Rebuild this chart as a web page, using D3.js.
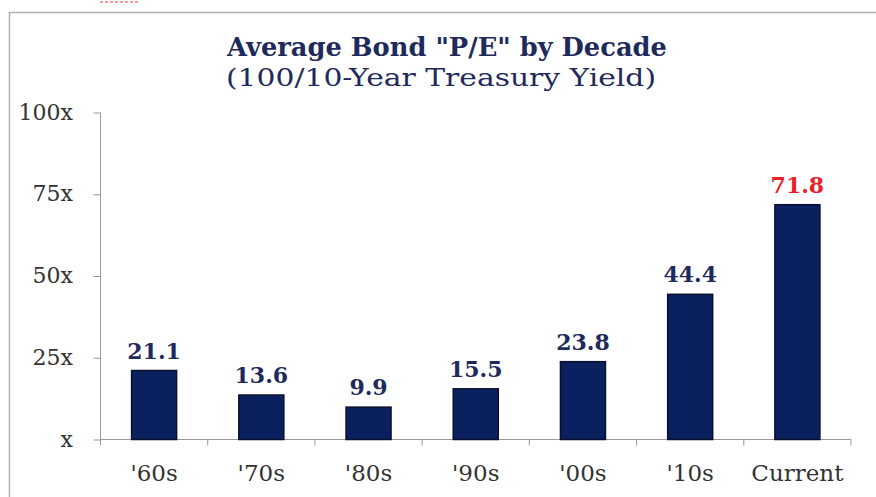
<!DOCTYPE html>
<html><head><meta charset="utf-8">
<script src="https://cdn.jsdelivr.net/npm/d3@7"></script>
<style>html,body{margin:0;padding:0;background:#fff;}svg{display:block;}</style>
</head><body>
<svg id="chart" width="876" height="497"></svg>
<script>
const categories = ["'60s","'70s","'80s","'90s","'00s","'10s","Current"];
const values = [21.1, 13.6, 9.9, 15.5, 23.8, 44.4, 71.8];
const valueLabels = ["21.1","13.6","9.9","15.5","23.8","44.4","71.8"];
const yTicks = [0, 25, 50, 75, 100];
const yTickLabels = ["x","25x","50x","75x","100x"];
const title = 'Average Bond "P/E" by Decade';
const subtitle = "(100/10-Year Treasury Yield)";

const serif = "'DejaVu Serif', 'Liberation Serif', serif";
const svg = d3.select("#chart");

// frame
svg.append("path").attr("d","M9.5,497 V12.5 H876").attr("fill","none").attr("stroke","#b0b0b0").attr("stroke-width",1.5);
svg.append("line").attr("x1",100).attr("x2",140).attr("y1",2).attr("y2",2)
  .attr("stroke","#f08080").attr("stroke-width",1.5).attr("stroke-dasharray","3,2");

const x = d3.scaleBand().domain(categories).range([100.5, 851]).padding(0);
const y = d3.scaleLinear().domain([0,100]).range([439.5, 112.5]);

// titles
svg.append("text").attr("x",447).attr("y",56).attr("text-anchor","middle")
  .attr("font-family",serif).attr("font-weight","bold").attr("font-size",25.5)
  .attr("textLength",440).attr("lengthAdjust","spacingAndGlyphs")
  .attr("fill","#1f2a5c").text(title);
svg.append("text").attr("x",441).attr("y",86).attr("text-anchor","middle")
  .attr("font-family",serif).attr("font-size",25)
  .attr("textLength",430).attr("lengthAdjust","spacingAndGlyphs")
  .attr("fill","#1f2a5c").text(subtitle);

// y axis
const yAxis = svg.append("g").attr("transform","translate(100.5,0)")
  .call(d3.axisLeft(y).tickValues(yTicks).tickFormat("").tickSize(7));
yAxis.select(".domain").attr("stroke","#999").attr("d","M0,112.5V439.5");
yAxis.selectAll(".tick line").attr("stroke","#999");
svg.selectAll("text.ytl").data(yTicks).enter().append("text").attr("class","ytl")
  .attr("x",73).attr("y",d=>y(d)+7).attr("text-anchor","end")
  .attr("font-family",serif).attr("font-size",22).attr("fill","#333")
  .text((d,i)=>yTickLabels[i]);

// x axis (ticks at band boundaries)
const xg = svg.append("g").attr("transform","translate(0,439.5)");
xg.append("line").attr("x1",100.5).attr("x2",851).attr("stroke","#999");
const bounds = categories.map(c=>x(c)).concat([x(categories[categories.length-1])+x.bandwidth()]);
xg.selectAll("line.t").data(bounds).enter().append("line").attr("class","t")
  .attr("x1",d=>d).attr("x2",d=>d).attr("y1",0).attr("y2",6).attr("stroke","#999");
xg.selectAll("text").data(categories).enter().append("text")
  .attr("x",d=>x(d)+x.bandwidth()/2).attr("y",41).attr("text-anchor","middle")
  .attr("font-family",serif).attr("font-size",23).attr("fill","#333").text(d=>d);

// bars
const bw = 45;
svg.selectAll("rect.bar").data(values).enter().append("rect").attr("class","bar")
  .attr("x",(d,i)=>x(categories[i])+x.bandwidth()/2-bw/2)
  .attr("width",bw)
  .attr("y",d=>y(d)).attr("height",d=>y(0)-y(d))
  .attr("fill","#0b215f").attr("stroke","#0a0f2e").attr("stroke-width",1.5);

// value labels
svg.selectAll("text.val").data(values).enter().append("text").attr("class","val")
  .attr("x",(d,i)=>x(categories[i])+x.bandwidth()/2).attr("y",d=>y(d)-12)
  .attr("text-anchor","middle").attr("font-family",serif).attr("font-weight","bold").attr("font-size",22)
  .attr("fill",(d,i)=>i===values.length-1?"#e8222a":"#1f2a5c").text((d,i)=>valueLabels[i]);
</script>
</body></html>
